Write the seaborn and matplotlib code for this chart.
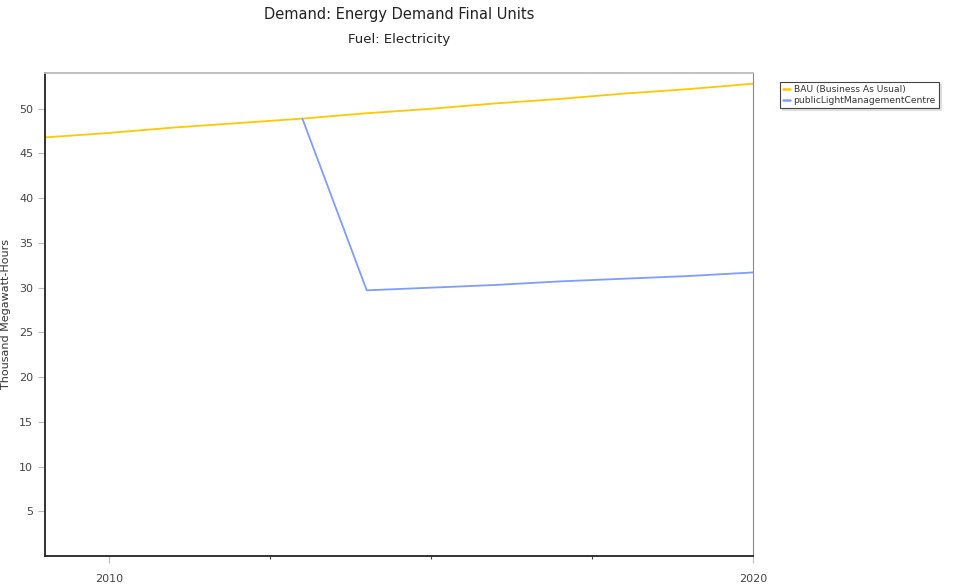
import pandas as pd
import matplotlib.pyplot as plt
import seaborn as sns

# values
years_bau = [2009, 2010, 2011, 2012, 2013, 2014, 2015, 2016, 2017, 2018, 2019, 2020]
bau = [46.8, 47.3, 47.9, 48.4, 48.9, 49.5, 50.0, 50.6, 51.1, 51.7, 52.2, 52.8]
years_plm = [2013, 2014, 2015, 2016, 2017, 2018, 2019, 2020]
plm = [48.9, 29.7, 30.0, 30.3, 30.7, 31.0, 31.3, 31.7]
series_names = ['BAU (Business As Usual)', 'publicLightManagementCentre']
series_colors = ['#FFC800', '#7F9CFF']

df = pd.concat([
    pd.DataFrame({'Year': years_bau, 'Value': bau, 'Scenario': series_names[0]}),
    pd.DataFrame({'Year': years_plm, 'Value': plm, 'Scenario': series_names[1]}),
])

sns.set_style('white')
plt.rcParams['font.family'] = ['DejaVu Sans']
plt.rcParams['xtick.bottom'] = True
plt.rcParams['ytick.left'] = True

fig = plt.figure(figsize=(9.69, 5.84), dpi=100)
ax = fig.add_axes([0.0464, 0.048, 0.7306, 0.827])

sns.lineplot(data=df, x='Year', y='Value', hue='Scenario',
             palette=dict(zip(series_names, series_colors)),
             linewidth=1.3, ax=ax, legend=False)

ax.set_xlim(2009, 2020)
ax.set_ylim(0, 54)
ax.set_xticks([2010, 2020])
ax.set_xticks([2012.5, 2015, 2017.5], minor=True)
ax.set_yticks(range(5, 55, 5))
ax.tick_params(axis='both', which='major', labelsize=8, labelcolor='#444444',
               length=5, width=0.8, color='#bbbbbb', bottom=True, left=True)
ax.tick_params(axis='x', which='major', pad=8)
ax.tick_params(axis='x', which='minor', length=2, width=0.8, color='#444444', bottom=True)
ax.set_xlabel('')
ax.set_ylabel('Thousand Megawatt-Hours', fontsize=8, color='#333333')
ax.yaxis.set_label_coords(-0.048, 0.5)

ax.spines['left'].set_color('#222222')
ax.spines['bottom'].set_color('#222222')
ax.spines['left'].set_linewidth(1.3)
ax.spines['bottom'].set_linewidth(1.3)
ax.spines['top'].set_color('#bbbbbb')
ax.spines['right'].set_color('#888888')
ax.spines['top'].set_linewidth(1.3)

fig.text(0.412, 0.975, 'Demand: Energy Demand Final Units', ha='center', va='center',
         fontsize=10.5, color='#222222')
fig.text(0.412, 0.933, 'Fuel: Electricity', ha='center', va='center',
         fontsize=9.5, color='#222222')

handles = [plt.Line2D([], [], color=c, linewidth=1.8) for c in series_colors]
leg = fig.legend(handles, series_names, loc='upper left', bbox_to_anchor=(0.8, 0.867),
                 fontsize=6.6, frameon=True, fancybox=False, shadow={'ox': 1.5, 'oy': -1.5, 'color': '#cccccc'},
                 handlelength=0.8, handletextpad=0.4, borderpad=0.3, labelspacing=0.2)
leg.get_frame().set_edgecolor('#444444')
leg.get_frame().set_linewidth(0.8)
for t in leg.get_texts():
    t.set_color('#333333')

fig.savefig('out.png', dpi=100)
